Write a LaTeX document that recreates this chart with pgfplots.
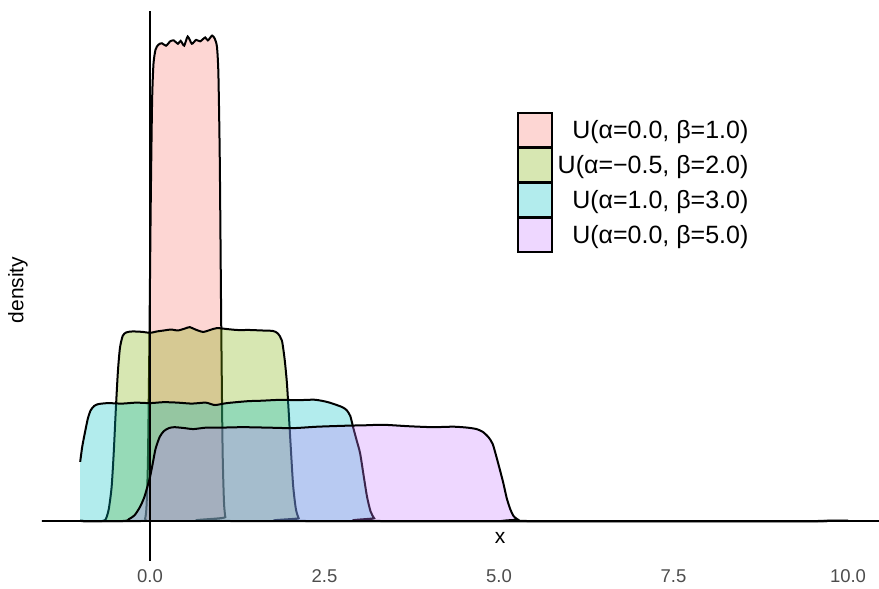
\documentclass[border=0pt]{standalone}
\usepackage{fontspec}
\setmainfont{Liberation Sans}
\usepackage{pgfplots}
\pgfplotsset{compat=1.18}

\definecolor{uA}{HTML}{F8766D}
\definecolor{uB}{HTML}{7CAE00}
\definecolor{uC}{HTML}{00BFC4}
\definecolor{uD}{HTML}{C77CFF}
\definecolor{tickgray}{HTML}{4D4D4D}

% kernel density estimates, evaluated on [-1, 10]
\def\densA{(-1,0) (-0.12,0) (-0.07,0.005) (-0.05,0.03) (-0.03,0.12) (-0.01,0.35) (0.01,0.65) (0.03,0.87) (0.05,0.95) (0.08,0.98) (0.12,0.99) (0.17,0.993) (0.23,0.988) (0.29,0.997) (0.34,0.999) (0.40,0.992) (0.44,0.998) (0.49,0.988) (0.54,1.007) (0.60,0.992) (0.66,1.0) (0.72,0.997) (0.79,1.005) (0.83,0.999) (0.89,1.009) (0.93,1.002) (0.96,0.985) (0.98,0.93) (1.0,0.75) (1.02,0.42) (1.04,0.15) (1.06,0.04) (1.08,0.008) (1.11,0) (10,0)}
\def\densB{(-1,0) (-0.68,0) (-0.63,0.005) (-0.59,0.025) (-0.55,0.07) (-0.52,0.14) (-0.49,0.23) (-0.46,0.31) (-0.43,0.36) (-0.39,0.385) (-0.34,0.392) (-0.25,0.394) (-0.1,0.393) (0.0,0.391) (0.1,0.394) (0.2,0.396) (0.3,0.398) (0.4,0.396) (0.5,0.4) (0.57,0.403) (0.65,0.398) (0.76,0.393) (0.86,0.397) (0.96,0.401) (1.1,0.399) (1.25,0.397) (1.43,0.397) (1.6,0.396) (1.76,0.395) (1.83,0.39) (1.89,0.375) (1.93,0.335) (1.96,0.29) (1.98,0.245) (2.01,0.17) (2.05,0.075) (2.09,0.025) (2.13,0.006) (2.18,0) (10,0)}
\def\densC{(-1,0.123) (-0.97,0.155) (-0.93,0.185) (-0.89,0.213) (-0.85,0.23) (-0.8,0.239) (-0.74,0.243) (-0.6,0.245) (-0.4,0.244) (-0.2,0.246) (0,0.245) (0.2,0.247) (0.4,0.246) (0.6,0.244) (0.8,0.246) (0.93,0.241) (1.1,0.245) (1.4,0.249) (1.6,0.25) (1.89,0.252) (2.1,0.251) (2.36,0.252) (2.55,0.247) (2.75,0.237) (2.82,0.23) (2.87,0.218) (2.91,0.195) (2.96,0.168) (3.01,0.141) (3.06,0.095) (3.11,0.05) (3.16,0.02) (3.21,0.006) (3.26,0) (10,0)}
\def\densD{(-1,0) (-0.38,0) (-0.3,0.004) (-0.22,0.012) (-0.14,0.03) (-0.08,0.05) (-0.03,0.075) (0.0,0.091) (0.04,0.12) (0.08,0.15) (0.14,0.175) (0.2,0.187) (0.27,0.193) (0.35,0.195) (0.5,0.193) (0.62,0.191) (0.8,0.194) (1.0,0.194) (1.33,0.195) (1.7,0.194) (2.05,0.193) (2.4,0.196) (2.8,0.198) (3.1,0.199) (3.34,0.2) (3.7,0.197) (4.05,0.195) (4.35,0.196) (4.55,0.194) (4.68,0.191) (4.77,0.185) (4.85,0.174) (4.91,0.16) (4.96,0.135) (5.01,0.108) (5.06,0.08) (5.11,0.048) (5.16,0.025) (5.21,0.01) (5.27,0.003) (5.33,0) (10,0)}

\begin{document}
\begin{tikzpicture}
\begin{axis}[
  at={(0,0)}, anchor=south west,
  scale only axis,
  width=837bp, height=548bp,
  xmin=-1.547, xmax=10.444,
  ymin=-0.0811, ymax=1.058,
  axis line style={draw=none},
  major tick length=0pt,
  xtick={0,2.5,5,7.5,10},
  xticklabels={0.0,2.5,5.0,7.5,10.0},
  ytick=\empty,
  xticklabel style={font=\fontsize{18.5bp}{22bp}\selectfont, text=tickgray, yshift=-6bp},
  xlabel={x},
  ylabel={density},
  xlabel style={at={(axis description cs:0.5472,0.0401)}, anchor=center, font=\fontsize{21bp}{25bp}\selectfont},
  ylabel style={at={(axis description cs:-0.0287,0.4927)}, anchor=center, font=\fontsize{21bp}{25bp}\selectfont},
  legend cell align=right,
  legend style={at={(axis description cs:0.5675,0.8175)}, anchor=north west,
    draw=none, fill=none, inner sep=0pt, row sep=-0.5bp, column sep=5bp,
    nodes={inner sep=0pt}, font=\fontsize{25bp}{29bp}\selectfont},
  legend image code/.code={\draw[#1, draw=black, line width=1.5bp] (0bp,-17bp) rectangle (34bp,17bp);},
]
\addplot[draw=none, fill=uA, fill opacity=0.3, smooth, tension=0.4] coordinates \densA \closedcycle;
\addlegendentry{U(α=0.0, β=1.0)}
\addplot[black, line width=2bp, smooth, tension=0.4, forget plot] coordinates \densA;

\addplot[draw=none, fill=uB, fill opacity=0.3, smooth, tension=0.4] coordinates \densB \closedcycle;
\addlegendentry{U(α=−0.5, β=2.0)}
\addplot[black, line width=2bp, smooth, tension=0.4, forget plot] coordinates \densB;

\addplot[draw=none, fill=uC, fill opacity=0.3, smooth, tension=0.4] coordinates \densC \closedcycle;
\addlegendentry{U(α=1.0, β=3.0)}
\addplot[black, line width=2bp, smooth, tension=0.4, forget plot] coordinates \densC;

\addplot[draw=none, fill=uD, fill opacity=0.3, smooth, tension=0.4] coordinates \densD \closedcycle;
\addlegendentry{U(α=0.0, β=5.0)}
\addplot[black, line width=2bp, smooth, tension=0.4, forget plot] coordinates \densD;

% reference lines through the origin
\draw[black, line width=1.6bp] (axis cs:-1.6,0) -- (axis cs:10.5,0);
\draw[black, line width=1.6bp] (axis cs:0,-0.1) -- (axis cs:0,1.1);
\end{axis}
\pgfresetboundingbox
\path (-42bp,-29bp) rectangle (837bp,560bp);
\end{tikzpicture}
\end{document}
